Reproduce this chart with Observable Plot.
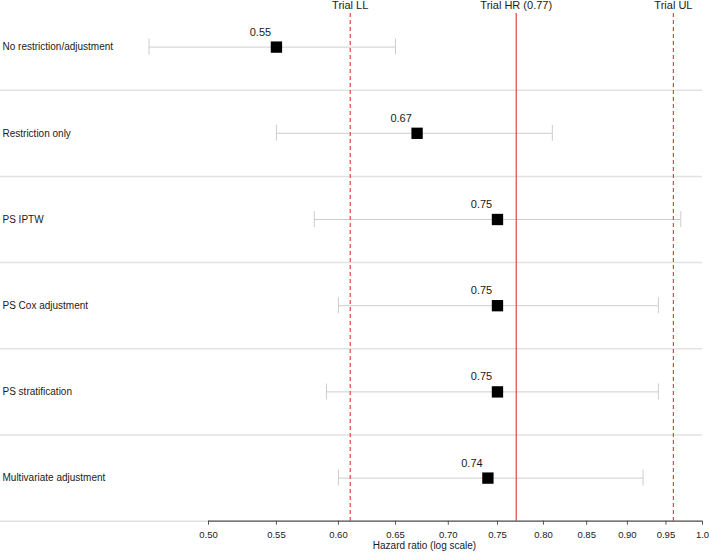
<!DOCTYPE html>
<html><head><meta charset="utf-8">
<script src="https://cdn.jsdelivr.net/npm/d3@7"></script>
<script src="https://cdn.jsdelivr.net/npm/@observablehq/plot@0.6"></script>
<style>html,body{margin:0;padding:0;background:#fff} svg{display:block}</style>
</head><body><div id="chart"></div>
<script>
// ---- data ----
const methods = ["No restriction/adjustment", "Restriction only", "PS IPTW", "PS Cox adjustment", "PS stratification", "Multivariate adjustment"];
const hr =    [0.55, 0.67, 0.75, 0.75, 0.75, 0.74];
const lower = [0.46, 0.55, 0.58, 0.60, 0.59, 0.60];
const upper = [0.65, 0.81, 0.97, 0.94, 0.94, 0.92];
const refValues = [0.61, 0.77, 0.96];
const refLabels = ["Trial LL", "Trial HR (0.77)", "Trial UL"];
const refDashed = [true, false, true];
const tickValues = [0.50, 0.55, 0.60, 0.65, 0.70, 0.75, 0.80, 0.85, 0.90, 0.95, 1.0];
const tickLabels = ["0.50", "0.55", "0.60", "0.65", "0.70", "0.75", "0.80", "0.85", "0.90", "0.95", "1.0"];
const xLabel = "Hazard ratio (log scale)";

// ---- derived tables ----
const n = methods.length;
const rows = methods.map((m, i) => ({method: m, idx: i + 0.5, hr: hr[i], lo: lower[i], hi: upper[i]}));
const refs = refValues.map((v, i) => ({v, label: refLabels[i], dashed: refDashed[i]}));
const boundaries = d3.range(1, n + 1);

const red = "#e5463c";

const chart = Plot.plot({
  width: 709,
  height: 555,
  marginLeft: 208,
  marginRight: 7,
  marginTop: 3.5,
  marginBottom: 34.3,
  style: {fontFamily: "'Liberation Sans', Arial, Helvetica, sans-serif", color: "#1a1a1a", background: "#fff"},
  x: {type: "log", domain: [0.5, 1.0], axis: null},
  y: {domain: [n, 0], axis: null},
  marks: [
    // row separators
    Plot.ruleY(boundaries, {stroke: "#e2e2e2", strokeWidth: 1.5, insetLeft: -208}),
    // CI lines and caps
    Plot.ruleY(rows, {y: "idx", x1: "lo", x2: "hi", stroke: "#cdcdcd", strokeWidth: 1}),
    Plot.ruleX(rows, {x: "lo", y1: "idx", y2: "idx", insetTop: -8, insetBottom: -8, stroke: "#cdcdcd"}),
    Plot.ruleX(rows, {x: "hi", y1: "idx", y2: "idx", insetTop: -8, insetBottom: -8, stroke: "#cdcdcd"}),
    // reference lines
    Plot.ruleX(refs.filter(d => d.dashed), {x: "v", stroke: red, strokeWidth: 1.2, strokeDasharray: "4,3", insetTop: 9.5}),
    Plot.ruleX(refs.filter(d => !d.dashed), {x: "v", stroke: red, strokeWidth: 1.2, insetTop: 9.5}),
    Plot.text(refs, {x: "v", text: "label", frameAnchor: "top", lineAnchor: "middle", dy: 1.8, fontSize: 11}),
    // point estimates
    Plot.dot(rows, {x: "hr", y: "idx", symbol: "square", r: 6.4, fill: "black", stroke: null}),
    Plot.text(rows, {x: "hr", y: "idx", text: d => d.hr.toFixed(2), dx: -16, dy: -15, fontSize: 11}),
    // row labels
    Plot.text(rows, {y: "idx", text: "method", frameAnchor: "left", textAnchor: "start", dx: -206, fontSize: 10}),
    // x axis
    Plot.ruleY([n], {stroke: "#555", strokeWidth: 1.2}),
    Plot.axisX({ticks: tickValues, tickFormat: d => tickLabels[tickValues.indexOf(d)], tickSize: 4, tickPadding: 6, fontSize: 9.5, label: null, stroke: "#555"}),
    Plot.text([xLabel], {frameAnchor: "bottom", dx: -31, dy: 28, fontSize: 10})
  ]
});
document.getElementById("chart").appendChild(chart);
</script>
</body></html>
